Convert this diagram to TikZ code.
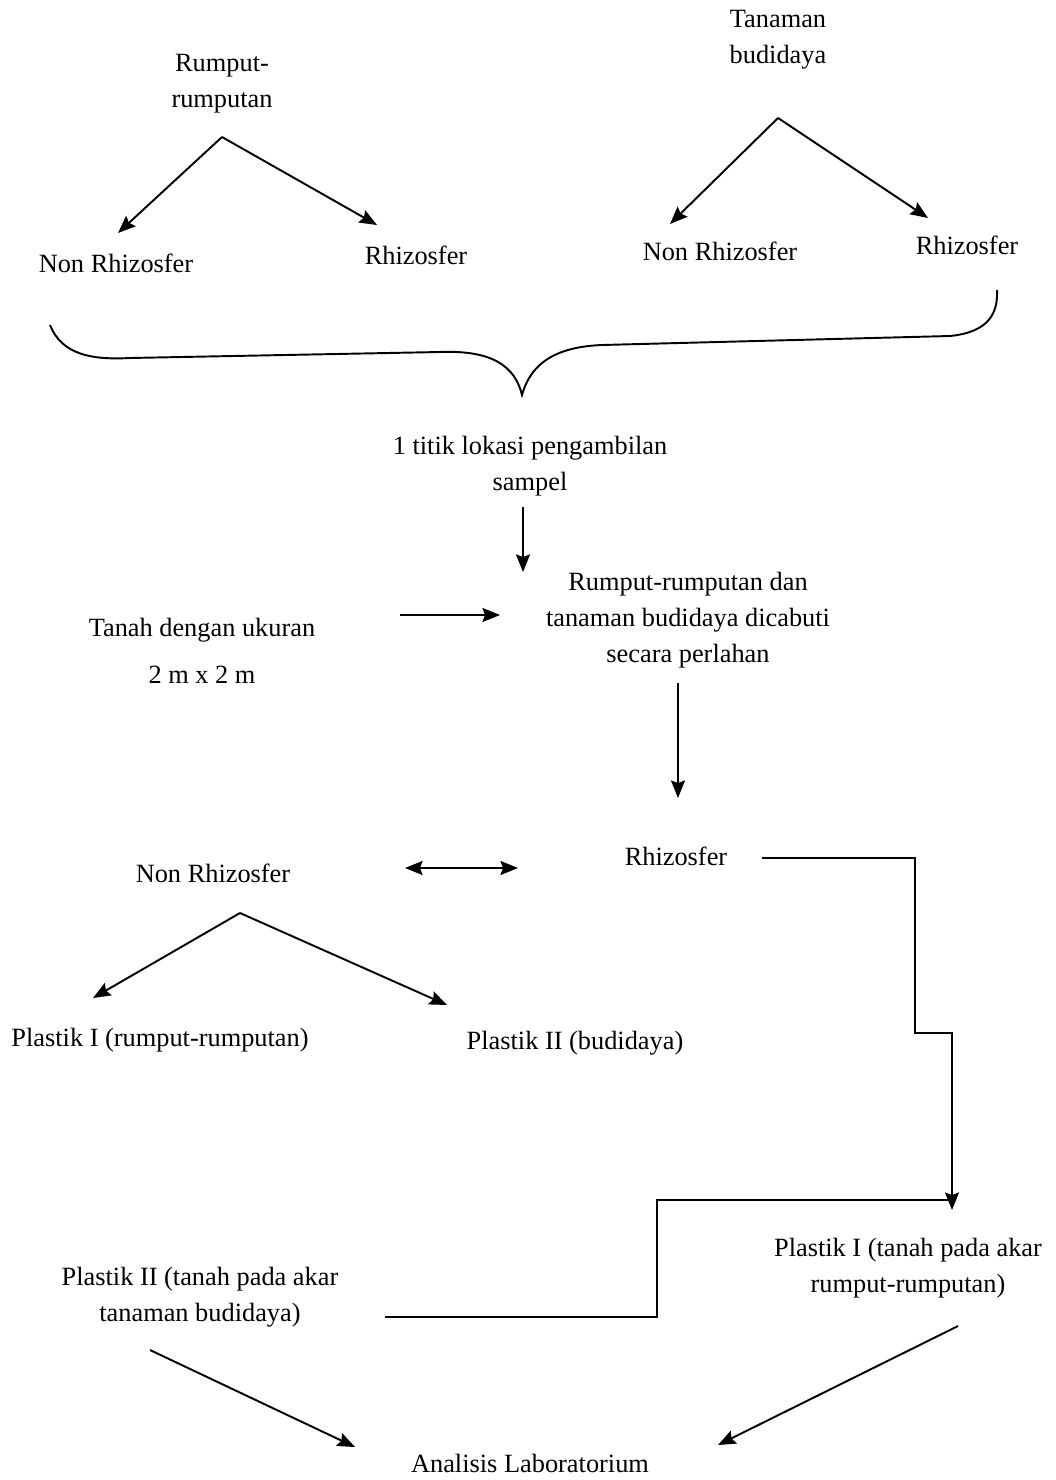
\documentclass[tikz,border=0pt]{standalone}
\usepackage{fontspec}
\setmainfont{Liberation Serif}
\usetikzlibrary{arrows.meta}

\begin{document}
\begin{tikzpicture}[x=0.02cm, y=-0.02cm, >={Stealth[length=10pt, width=8pt, inset=1.5pt]}, line width=1.1pt,
		txt/.style={align=center, font=\fontsize{15}{20.4}\selectfont}]
		\useasboundingbox (0,0) rectangle (1055,1480);
		
		\node[txt] (rumput) at (222,84) {Rumput-\\rumputan};
		\node[txt] (tanaman) at (778,40) {Tanaman\\budidaya};
		\node[txt] (nr1) at (116,263) {Non Rhizosfer};
		\node[txt] (r1) at (416,255) {Rhizosfer};
		\node[txt] (nr2) at (720,251) {Non Rhizosfer};
		\node[txt] (r2) at (967,245) {Rhizosfer};
		\node[txt] (lokasi) at (530,466) {1 titik lokasi pengambilan\\sampel};
		\node[txt] (cabut) at (688,620) {Rumput-rumputan dan\\tanaman budidaya dicabuti\\secara perlahan};
		\node[txt] (tanah) at (202,651) {Tanah dengan ukuran\\[6pt]2 m x 2 m};
		\node[txt] (rhizo) at (676,856) {Rhizosfer};
		\node[txt] (nonrhizo) at (213,873) {Non Rhizosfer};
		\node[txt] (p1) at (160,1040) {Plastik I (rumput-rumputan)};
		\node[txt] (p2) at (575,1043) {Plastik II (budidaya)};
		\node[txt] (pt1) at (908,1268) {Plastik I (tanah pada akar\\rumput-rumputan)};
		\node[txt] (pt2) at (200,1297) {Plastik II (tanah pada akar\\tanaman budidaya)};
		\node[txt] (anal) at (530,1463) {Analisis Laboratorium};
		
		\coordinate (ap1) at (222,137);
		\coordinate (ap2) at (778,118);
		\coordinate (ap3) at (240,913);
		\coordinate (step1) at (915,1033);
		\coordinate (step2) at (657,1200);
		\coordinate (join) at (952,1200);
		
		% brace
		\draw (50,325) .. controls (62,355) and (92,360) .. (130,358) -- (440,352)
			.. controls (492,350) and (515,366) .. (522,395)
			.. controls (530,366) and (552,347) .. (602,345) -- (950,336)
			.. controls (990,332) and (998,312) .. (997,290);
		
		\draw[->] (ap1) -- ([shift={(2,-30)}]nr1.center);
		\draw[->] (ap1) -- ([shift={(-39,-30)}]r1.center);
		\draw[->] (ap2) -- ([shift={(-50,-27)}]nr2.center);
		\draw[->] (ap2) -- ([shift={(-39,-27)}]r2.center);
		\draw[->] ([shift={(-7,41)}]lokasi.center) -- ([shift={(-165,-48)}]cabut.center);
		\draw[->] ([shift={(198,-36)}]tanah.center) -- ([shift={(-188,-5)}]cabut.center);
		\draw[->] ([shift={(-10,63)}]cabut.center) -- ([shift={(2,-58)}]rhizo.center);
		\draw[<->] ([shift={(192,-5)}]nonrhizo.center) -- ([shift={(-158,12)}]rhizo.center);
		\draw[->] (ap3) -- ([shift={(-67,-42)}]p1.center);
		\draw[->] (ap3) -- ([shift={(-128,-38)}]p2.center);
		\draw[->] ([shift={(86,2)}]rhizo.center) -| (step1) -| ([shift={(44,-58)}]pt1.center);
		\draw ([shift={(185,20)}]pt2.center) -| (step2) -- (join);
		\draw[->] ([shift={(-50,53)}]pt2.center) -- ([shift={(-175,-16)}]anal.center);
		\draw[->] ([shift={(50,58)}]pt1.center) -- ([shift={(188,-18)}]anal.center);
	\end{tikzpicture}
\end{document}
